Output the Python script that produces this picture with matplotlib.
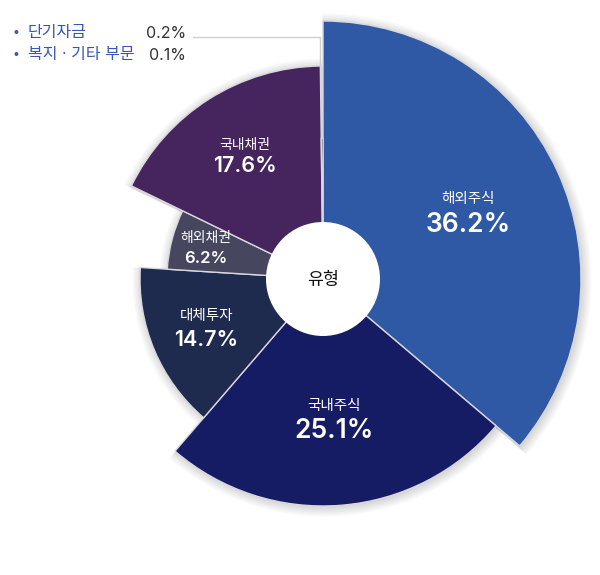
import matplotlib

matplotlib.use("Agg")

import matplotlib.pyplot as plt
import numpy as np
from matplotlib.patches import Circle, Wedge

plt.rcParams["font.family"] = ["Inter", "Noto Sans CJK KR", "DejaVu Sans"]

# data, clockwise from 12 o'clock
labels = ["해외주식", "국내주식", "대체투자", "해외채권", "국내채권", "단기자금"]
values = [36.2, 25.1, 14.7, 6.2, 17.6, 0.2]
small_labels = ["단기자금", "복지 · 기타 부문"]
small_values = [0.2, 0.1]

# styling
colors = ["#3059a5", "#161c63", "#1f2a4f", "#46475f", "#46245e", "#111111"]
radii = [258, 227, 183, 156, 213, 141]
pct_sizes = [19, 19, 15.5, 12, 15.5, 0]
name_sizes = [10.5, 10.5, 10.5, 10, 10, 0]
label_frac = [0.51, 0.49, 0.55, 0.65, 0.57, 0]
label_gap = [26, 25, 24, 21, 21, 0]
center = (323, 279)
hole = 57


def main() -> None:
    fig = plt.figure(figsize=(6.0, 5.75), dpi=100)
    ax = fig.add_axes([0, 0, 1, 1])
    ax.set_xlim(0, 600)
    ax.set_ylim(575, 0)
    ax.set_aspect("equal")
    ax.axis("off")

    total = sum(values)
    angles = np.cumsum([0] + values) / total * 360.0

    # soft shadow
    for k in range(8):
        for i in range(len(values)):
            if values[i] < 1:
                continue
            t1 = -90 + angles[i] - 0.4
            t2 = -90 + angles[i + 1] + 0.4
            ax.add_patch(
                Wedge(
                    (center[0] + 1.5, center[1] + 1.5),
                    radii[i] + k * 1.3,
                    t1,
                    t2,
                    facecolor="#000000",
                    alpha=0.018,
                    linewidth=0,
                    zorder=1,
                )
            )

    for i, value in enumerate(values):
        t1 = -90 + angles[i]
        t2 = -90 + angles[i + 1]
        ax.add_patch(
            Wedge(
                center,
                radii[i],
                t1,
                t2,
                facecolor=colors[i],
                edgecolor="#d8d8de",
                linewidth=1.0,
                zorder=2,
            )
        )
        if pct_sizes[i] == 0:
            continue
        mid = np.deg2rad((t1 + t2) / 2)
        r = hole + (radii[i] - hole) * label_frac[i]
        lx = center[0] + r * np.cos(mid)
        ly = center[1] + r * np.sin(mid)
        half = label_gap[i] / 2
        ax.text(lx, ly - half, labels[i], color="white", fontsize=name_sizes[i],
                ha="center", va="center", zorder=4)
        ax.text(lx, ly + half, f"{value}%", color="white", fontsize=pct_sizes[i],
                fontweight=600, ha="center", va="center", zorder=4)

    ax.add_patch(Circle(center, hole, facecolor="white", edgecolor="none", zorder=3))
    ax.text(center[0], center[1] + 1, "유형", fontsize=12.5, color="#111111",
            ha="center", va="center", zorder=4)

    # leader line to the small slices
    ax.plot([193, 320, 320], [37, 37, 140], color="#cfcfcf", linewidth=1.0, zorder=1.5)

    for j, (name, val) in enumerate(zip(small_labels, small_values)):
        y = 33 + j * 22
        ax.text(13, y, "•", color="#3a55b5", fontsize=9, ha="left", va="center")
        ax.text(28, y, name, color="#3a55b5", fontsize=11.5, ha="left", va="center")
        ax.text(186, y, f"{val}%", color="#333333", fontsize=11.5, ha="right", va="center")

    fig.savefig("out.png", dpi=100, facecolor="white")
    plt.close(fig)


if __name__ == "__main__":
    main()
